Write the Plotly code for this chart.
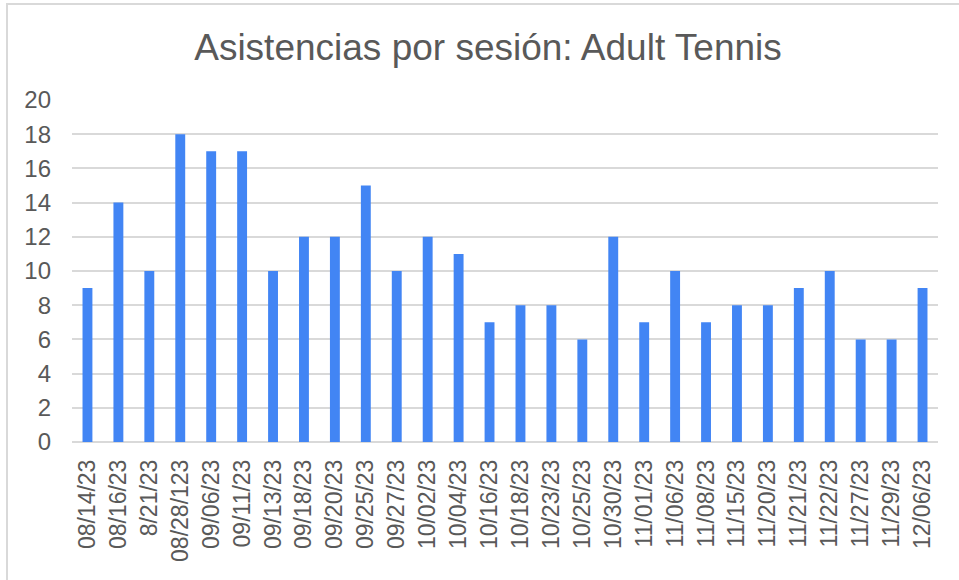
import plotly.graph_objects as go

dates = ["08/14/23", "08/16/23", "8/21/23", "08/28/123", "09/06/23", "09/11/23", "09/13/23",
         "09/18/23", "09/20/23", "09/25/23", "09/27/23", "10/02/23", "10/04/23", "10/16/23",
         "10/18/23", "10/23/23", "10/25/23", "10/30/23", "11/01/23", "11/06/23", "11/08/23",
         "11/15/23", "11/20/23", "11/21/23", "11/22/23", "11/27/23", "11/29/23", "12/06/23"]
attendance = [9, 14, 10, 18, 17, 17, 10, 12, 12, 15, 10, 12, 11, 7,
              8, 8, 6, 12, 7, 10, 7, 8, 8, 9, 10, 6, 6, 9]
y_ticks = [0, 2, 4, 6, 8, 10, 12, 14, 16, 18, 20]

FONT = "Liberation Sans, Arial, sans-serif"
TXT = "#595959"

fig = go.Figure(go.Bar(x=dates, y=attendance, marker_color="#4285F4",
                       marker_line_width=0))

W, H = 959, 580
L, R, T, B = 72, 21, 100, 138
pw, ph = W - L - R, H - T - B

fig.update_layout(
    width=W, height=H,
    margin=dict(l=L, r=R, t=T, b=B),
    paper_bgcolor="white", plot_bgcolor="white",
    bargap=0.68,
    showlegend=False,
    title=dict(text="Asistencias por sesión: Adult Tennis", x=488 / W, xanchor="center",
               y=1 - 47 / H, yanchor="middle",
               font=dict(family=FONT, size=37, color=TXT)),
    font=dict(family=FONT, color=TXT),
    xaxis=dict(type="category", tickangle=-90, showgrid=False, showline=False,
               ticks="", ticklabelstandoff=12,
               tickfont=dict(family=FONT, size=23, color=TXT)),
    yaxis=dict(range=[0, 20], tickvals=y_ticks, showgrid=True, gridcolor="#d9d9d9",
               gridwidth=2, zeroline=True, zerolinecolor="#d9d9d9", zerolinewidth=2,
               showline=False, ticks="", ticklabelstandoff=20,
               tickfont=dict(family=FONT, size=24, color=TXT)),
    shapes=[dict(type="rect", xref="paper", yref="paper",
                 x0=(7 - L) / pw, x1=(W + 20 - L) / pw,
                 y0=(H - B - (H + 20)) / ph, y1=(H - B - 4) / ph,
                 line=dict(color="#d9d9d9", width=2), fillcolor="rgba(0,0,0,0)",
                 layer="below")],
)

fig.write_html("out.html", config={"displayModeBar": False},
               post_script="document.body.style.margin='0px';document.body.style.overflow='hidden';")
